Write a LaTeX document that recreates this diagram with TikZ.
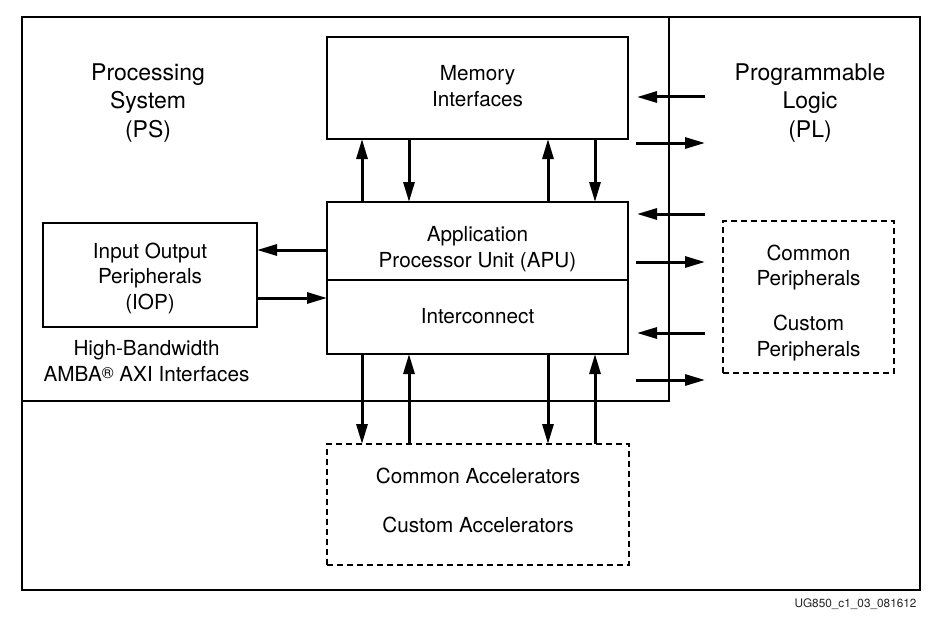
\documentclass[tikz,border=0pt]{standalone}
\usepackage{fontspec}
\setmainfont{TeX Gyre Heros}
\usetikzlibrary{arrows.meta}
\usetikzlibrary{positioning}

\begin{document}
\begin{tikzpicture}
    [
    x=1pt, y=-1pt,
    box/.style={rectangle,draw,line width=2pt,outer sep=0pt},
    dbox/.style={box,dash pattern=on 6pt off 4pt,line width=1.8pt},
    txt/.style={align=center,font=\fontsize{20.7}{25.5}\selectfont},
    frame/.style={rectangle,draw,line width=2pt,outer sep=0pt,inner sep=0pt},
    lbl/.style={align=center,font=\fontsize{23}{28.5}\selectfont},
    arr/.style={line width=3pt,-{Triangle[length=20pt,width=11pt]}}
    ]
    \useasboundingbox (0,0) rectangle (946,626);
    \node (pl) at (471,303.5) [frame, minimum width=898pt, minimum height=573pt] {};
    \node (ps) at (345.5,209) [frame, minimum width=647pt, minimum height=384pt] {};
    \node (pslbl) at (148,103) [lbl] {Processing\\System\\(PS)};
    \node (pllbl) at (810,103) [lbl] {Programmable\\Logic\\(PL)};

    \node (mem) at (477.5,88) [box, minimum width=301pt, minimum height=102pt,
      label={[txt,yshift=2pt]center:Memory\\Interfaces}] {};
    \node (apu) at (477.5,241) [box, minimum width=301pt, minimum height=78pt,
      label={[txt,yshift=-8pt]center:Application\\Processor Unit (APU)}] {};
    \node (ic) [box, below=0pt of apu, minimum width=301pt, minimum height=74pt,
      label={[txt,yshift=1pt]center:Interconnect}] {};
    \node (iop) at (150,275) [box, minimum width=214pt, minimum height=104pt,
      label={[txt,yshift=-3pt]center:Input Output\\Peripherals\\(IOP)}] {};
    \node (axi) at (146.5,361) [txt] {High-Bandwidth\\AMBA{\fontsize{16}{16}\selectfont\raisebox{3pt}{®}} AXI Interfaces};
    \node (acc) at (478,504.5) [dbox, minimum width=302pt, minimum height=121pt,
      label={[txt,yshift=4pt]center:Common Accelerators\\[23.5pt]Custom Accelerators}] {};
    \node (per) at (808.5,297) [dbox, minimum width=171pt, minimum height=152pt,
      label={[txt,yshift=-6pt]center:Common\\Peripherals\\[19.5pt]Custom\\Peripherals}] {};
    \node (fig) at (855.5,604) [text=black!85, font=\fontsize{11.8}{12}\selectfont] {UG850\_c1\_03\_081612};

    % bus columns and IOP rows
    \coordinate (c1) at (362,0);
    \coordinate (c2) at (409,0);
    \coordinate (c3) at (548,0);
    \coordinate (c4) at (595,0);
    \coordinate (r1) at (0,250);
    \coordinate (r2) at (0,298);

    \draw [arr] (apu.north -| c1) to (mem.south -| c1);
    \draw [arr] (mem.south -| c2) to (apu.north -| c2);
    \draw [arr] (apu.north -| c3) to (mem.south -| c3);
    \draw [arr] (mem.south -| c4) to (apu.north -| c4);

    \draw [arr] (ic.south -| c1) to (acc.north -| c1);
    \draw [arr] (acc.north -| c2) to (ic.south -| c2);
    \draw [arr] (ic.south -| c3) to (acc.north -| c3);
    \draw [arr] (acc.north -| c4) to (ic.south -| c4);

    \draw [arr] (apu.west |- r1) to (iop.east |- r1);
    \draw [arr] (iop.east |- r2) to (ic.west |- r2);

    % PS-PL boundary arrows
    \coordinate (w1) at (637,97);
    \coordinate (e1) at (705,97);
    \coordinate (w2) at (636,143);
    \coordinate (e2) at (705,143);
    \coordinate (w3) at (637,214);
    \coordinate (e3) at (705,214);
    \coordinate (w4) at (636,262);
    \coordinate (e4) at (705,262);
    \coordinate (w5) at (637,333);
    \coordinate (e5) at (705,333);
    \coordinate (w6) at (636,380);
    \coordinate (e6) at (705,380);
    \draw [arr] (e1) to (w1);
    \draw [arr] (w2) to (e2);
    \draw [arr] (e3) to (w3);
    \draw [arr] (w4) to (e4);
    \draw [arr] (e5) to (w5);
    \draw [arr] (w6) to (e6);
  \end{tikzpicture}
\end{document}
